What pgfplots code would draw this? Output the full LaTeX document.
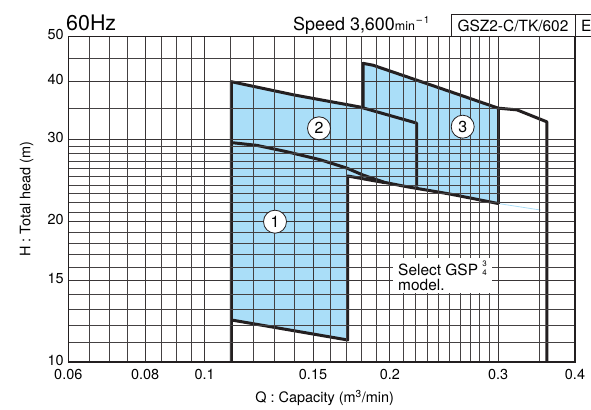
\documentclass[border=0pt]{standalone}
\usepackage{pgfplots}
\pgfplotsset{compat=1.18}
\usepackage{fontspec}
\setmainfont{TeX Gyre Heros}
\definecolor{fillblue}{RGB}{170,222,248}
\definecolor{outl}{RGB}{35,31,32}
\begin{document}
\begin{tikzpicture}[x=1bp,y=1bp]
\begin{axis}[
  at={(68.3bp,48bp)}, anchor=south west,
  scale only axis, width=506.7bp, height=325.4bp,
  xmode=log, ymode=log,
  xmin=0.06, xmax=0.4, ymin=10, ymax=50,
  axis on top,
  xtick={0.06,0.08,0.1,0.15,0.2,0.3,0.4},
  xticklabels={\mbox{0.06},\mbox{0.08},\mbox{0.1},\mbox{0.15},\mbox{0.2},\mbox{0.3},\mbox{0.4}},
  ytick={10,15,20,30,40,50},
  yticklabels={\mbox{10},\mbox{15},\mbox{20},\mbox{30},\mbox{40},\mbox{50}},
  minor xtick={0.065,0.07,0.075,0.085,0.09,0.095,0.11,0.12,0.13,0.14,0.16,0.17,0.18,0.19,0.21,0.22,0.23,0.24,0.25,0.26,0.27,0.28,0.29,0.35},
  minor ytick={11,12,13,14,16,17,18,19,21,22,23,24,25,26,27,28,29,35,45},
  grid=both,
  major grid style={outl!90, line width=0.75bp},
  minor grid style={outl!85, line width=0.75bp},
  major tick length=0pt, minor tick length=0pt,
  axis line style={outl, line width=1.3bp},
  xticklabel style={font=\fontsize{14.5}{14.5}\selectfont, yshift=-4bp},
  yticklabel style={font=\fontsize{14.5}{14.5}\selectfont, xshift=-1bp, yshift=2bp},
  xlabel={Q : Capacity (m\textsuperscript{3}/min)},
  ylabel={H : Total head (m)},
  xlabel style={font=\fontsize{14.5}{14.5}\selectfont, at={(axis description cs:0.506,-0.11)}, anchor=center},
  ylabel style={font=\fontsize{14.5}{14.5}\selectfont, at={(axis description cs:-0.082,0.5)}, anchor=center},
]
% shaded areas
\addplot[fill=fillblue, draw=none] coordinates {
 (0.1105,12.31) (0.1105,40.0) (0.1393,37.5) (0.1788,35.3) (0.221,32.6)
 (0.221,23.8) (0.1964,24.27) (0.1708,25.09) (0.1708,11.15)} --cycle;
\addplot[fill=fillblue, draw=none] coordinates {
 (0.181,25.2) (0.181,43.8) (0.1878,43.4) (0.2213,40.3) (0.2505,38.1) (0.30,35.1)
 (0.30,21.9) (0.2505,22.95) (0.213,23.8) (0.1964,24.27)} --cycle;
% faint line
\addplot[fillblue, line width=0.8bp] coordinates {(0.30,21.9) (0.352,21.2)};
% outlines
\addplot[outl, line width=3bp, line join=round] coordinates {
 (0.1105,10) (0.1105,40.0) (0.1393,37.5) (0.1788,35.3) (0.221,32.6) (0.221,23.8)};
\addplot[outl, line width=3bp, line join=round] coordinates {
 (0.1105,29.6) (0.1215,29.2) (0.1359,28.3) (0.154,27.2) (0.1701,26.1) (0.181,25.2)
 (0.1964,24.3) (0.213,23.8) (0.2505,22.95) (0.30,21.9)};
\addplot[outl, line width=3bp, line join=round] coordinates {
 (0.1964,24.27) (0.1708,25.09) (0.1708,11.15) (0.1105,12.31)};
\addplot[outl, line width=3bp, line join=round] coordinates {
 (0.181,35.15) (0.181,43.8) (0.1878,43.4) (0.2213,40.3) (0.2505,38.1) (0.30,35.1)
 (0.322,34.8) (0.36,32.8) (0.36,10)};
\addplot[outl, line width=3bp] coordinates {(0.30,35.1) (0.30,21.9)};
\end{axis}
% header
\node[anchor=base west, inner sep=0, font=\fontsize{21.5}{21.5}\selectfont] at (66bp,379.3bp) {60Hz};
\node[anchor=base west, inner sep=0, font=\fontsize{18}{18}\selectfont] at (293bp,379.3bp)
 {Speed 3,600{\fontsize{12.5}{12.5}\selectfont min}\raisebox{7bp}{\fontsize{10}{10}\selectfont\,--\,1}};
\draw[outl, line width=1bp] (451bp,373.4bp) rectangle (575bp,395bp);
\draw[outl, line width=1bp] (575bp,373.4bp) rectangle (600bp,395bp);
\node[anchor=base, inner sep=0, font=\fontsize{15.5}{15.5}\selectfont] at (513bp,378.3bp) {GSZ2-C/TK/602};
\node[anchor=base west, inner sep=0, font=\fontsize{15.5}{15.5}\selectfont] at (581bp,378.3bp) {E};
% circled labels
\tikzset{cl/.style={circle, draw=outl, line width=0.8bp, fill=white, minimum size=23bp, inner sep=0pt, font=\fontsize{16}{16}\selectfont}}
\node[cl] at (275bp,188.3bp) {1};
\node[cl] at (319bp,281.7bp) {2};
\node[cl] at (462.7bp,283.3bp) {3};
% select note
\node[fill=white, inner xsep=5bp, inner ysep=3bp, align=left, font=\fontsize{15.5}{15}\selectfont] at (442.5bp,134.5bp)
 {Select GSP {\fontsize{8}{7}\selectfont\shortstack{3\\4}}\\model.};
\pgfresetboundingbox
\path[use as bounding box] (0,0) rectangle (591bp,410bp);
\end{tikzpicture}
\end{document}
